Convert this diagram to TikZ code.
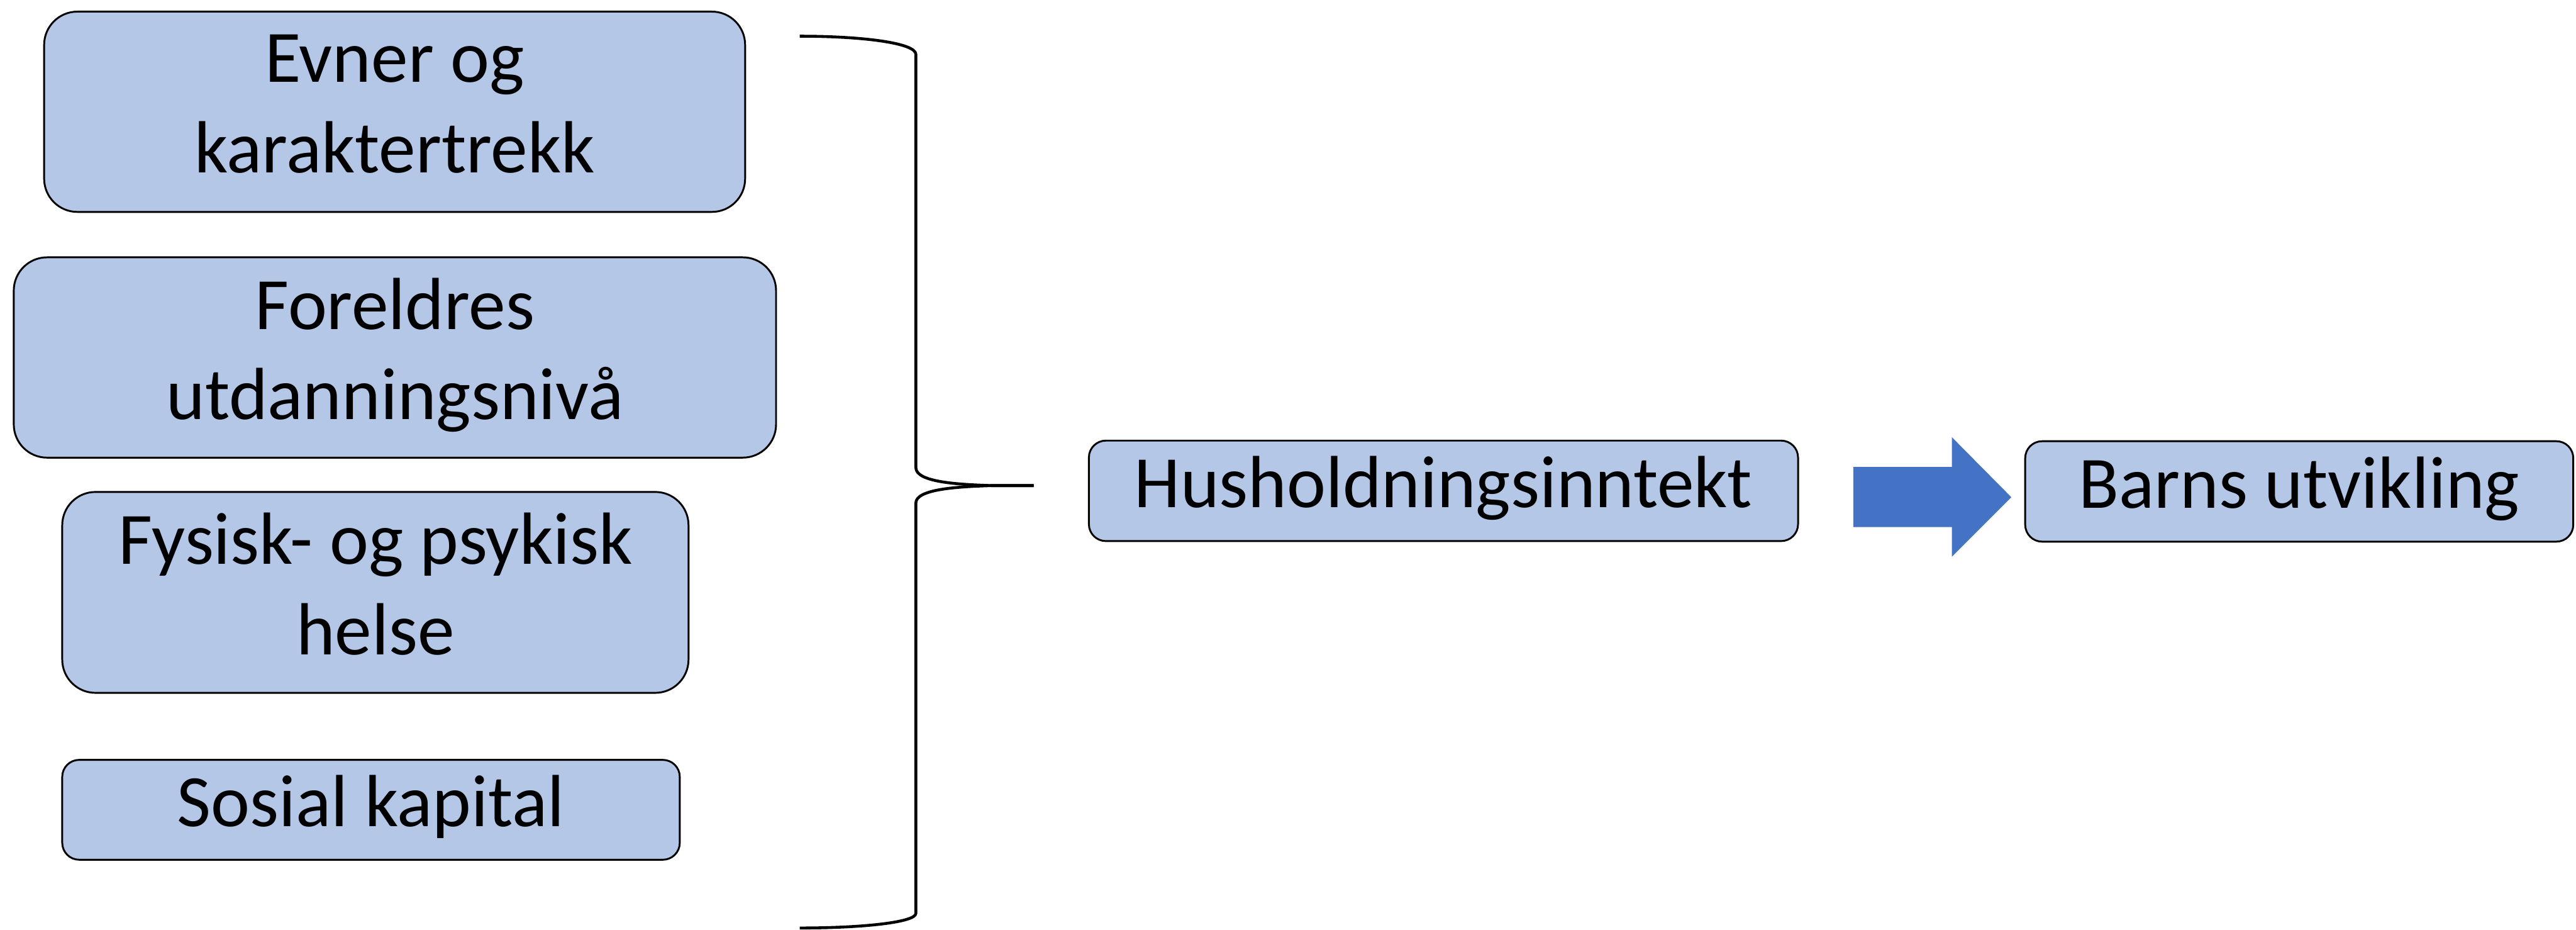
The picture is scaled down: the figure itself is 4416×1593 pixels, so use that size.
\documentclass[tikz,border=0pt]{standalone}
\usepackage{fontspec}
\setmainfont{Carlito}
\definecolor{boxfill}{HTML}{B4C7E7}
\definecolor{arrowblue}{HTML}{4472C4}
\newcommand{\lnstrut}{\rule[-0.3cm]{0pt}{1.14cm}}
\begin{document}
\begin{tikzpicture}[x=0.01cm,y=-0.01cm,
  box/.style={draw=black,line width=0.9pt,fill=boxfill,align=center,inner sep=0pt,
    font=\fontsize{36}{44}\selectfont},
  bigbox/.style={box,rounded corners=0.57cm},
  smallbox/.style={box,rounded corners=0.29cm},
  bracestyle/.style={line width=1.4pt,line join=round}]
\useasboundingbox (0,0) rectangle (4416,1593);
\node[bigbox,minimum width=12.01cm,minimum height=3.43cm] (evner) at (676.5,191.5) {\lnstrut Evner og\\\lnstrut karaktertrekk};
\node[bigbox,minimum width=13.06cm,minimum height=3.43cm] (foreldre) at (677,612.5) {\lnstrut Foreldres\\\lnstrut utdanningsnivå};
\node[bigbox,minimum width=10.73cm,minimum height=3.44cm] (helse) at (643.5,1015) {\lnstrut Fysisk- og psykisk\\\lnstrut helse};
\node[smallbox,minimum width=10.58cm,minimum height=1.71cm] (sosial) at (636,1387.5) {\lnstrut Sosial kapital};
\node[smallbox,minimum width=12.15cm,minimum height=1.72cm] (inntekt) at (2474.5,841) {\lnstrut Husholdningsinntekt};
\node[smallbox,minimum width=9.39cm,minimum height=1.72cm] (barn) at (3941.5,842) {\lnstrut Barns utvikling};
% brace
\coordinate (tip) at (1772,832);
\draw[bracestyle]
  (1371,62) .. controls (1481,62) and (1570,74) .. (1570,93)
  -- (1570,801) .. controls (1570,826) and (1640,830) .. (1700,832) -- (tip);
\draw[bracestyle]
  (tip) -- (1700,832) .. controls (1640,834) and (1570,838) .. (1570,862)
  -- (1570,1565) .. controls (1570,1580) and (1481,1590) .. (1371,1590);
% block arrow
\fill[arrowblue] (3177,800) -- (3346,800) -- (3346,749) -- (3448,852) -- (3346,954) -- (3346,903) -- (3177,903) -- cycle;
\end{tikzpicture}
\end{document}
